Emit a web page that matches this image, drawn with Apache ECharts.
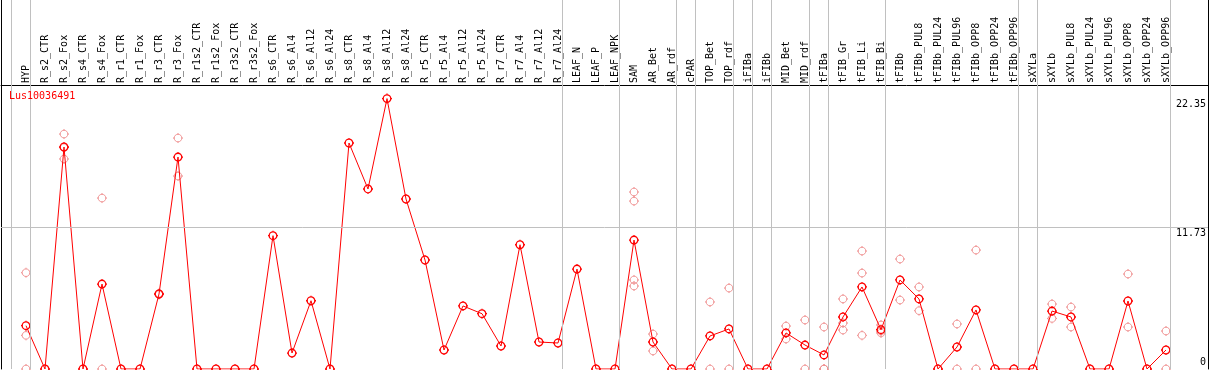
<!DOCTYPE html>
<html>
<head>
<meta charset="utf-8">
<script src="https://cdn.jsdelivr.net/npm/echarts@6/dist/echarts.min.js"></script>
<style>
  html, body { margin: 0; padding: 0; background: #fff; }
  #chart { width: 1209px; height: 370px; }
</style>
</head>
<body>
<div id="chart"></div>
<script>
const seriesName = 'Lus10036491';

const categories = [
  'HYP', 'R_s2_CTR', 'R_s2_Fox', 'R_s4_CTR', 'R_s4_Fox', 'R_r1_CTR', 'R_r1_Fox',
  'R_r3_CTR', 'R_r3_Fox', 'R_r1s2_CTR', 'R_r1s2_Fox', 'R_r3s2_CTR', 'R_r3s2_Fox',
  'R_s6_CTR', 'R_s6_Al4', 'R_s6_Al12', 'R_s6_Al24', 'R_s8_CTR', 'R_s8_Al4', 'R_s8_Al12',
  'R_s8_Al24', 'R_r5_CTR', 'R_r5_Al4', 'R_r5_Al12', 'R_r5_Al24', 'R_r7_CTR', 'R_r7_Al4',
  'R_r7_Al12', 'R_r7_Al24', 'LEAF_N', 'LEAF_P', 'LEAF_NPK', 'SAM', 'AR_Bet', 'AR_rdf',
  'cPAR', 'TOP_Bet', 'TOP_rdf', 'iFIBa', 'iFIBb', 'MID_Bet', 'MID_rdf', 'tFIBa',
  'tFIB_Gr', 'tFIB_Li', 'tFIB_Bi', 'tFIBb', 'tFIBb_PUL8', 'tFIBb_PUL24', 'tFIBb_PUL96',
  'tFIBb_OPP8', 'tFIBb_OPP24', 'tFIBb_OPP96', 'sXYLa', 'sXYLb', 'sXYLb_PUL8',
  'sXYLb_PUL24', 'sXYLb_PUL96', 'sXYLb_OPP8', 'sXYLb_OPP24', 'sXYLb_OPP96'
];

const meanValues = [
  3.58, 0, 18.35, 0, 7.02, 0, 0,
  6.2, 17.52, 0, 0, 0, 0,
  11.02, 1.32, 5.64, 0, 18.68, 14.88, 22.35,
  14.05, 9.01, 1.57, 5.21, 4.57, 1.9, 10.27,
  2.23, 2.15, 8.26, 0, 0, 10.66, 2.23, 0,
  0, 2.73, 3.31, 0, 0, 2.98, 1.98, 1.16,
  4.3, 6.78, 3.25, 7.36, 5.79, 0, 1.82,
  4.88, 0, 0, 0, 4.79, 4.3,
  0, 0, 5.62, 0, 1.57
];

const replicateValues = [
  [7.96, 2.78, 0], [], [19.42, 17.36, 18.3], [], [14.13, 0], [], [],
  [6.15, 6.25], [19.09, 15.95], [], [], [], [],
  [], [], [], [], [], [], [],
  [], [], [], [], [], [], [],
  [], [], [], [], [], [14.63, 13.88, 7.36, 6.86], [2.89, 1.49], [],
  [], [5.54, 0], [6.69, 0], [], [], [3.55, 2.48], [4.05, 0], [3.47, 0, 0],
  [5.79, 3.8, 3.22], [9.75, 7.93, 2.78], [3.64, 2.98, 3.13], [9.09, 5.7], [6.78, 4.82], [], [3.72, 0],
  [9.83, 0], [], [], [], [5.37, 4.18], [5.12, 3.47],
  [], [], [7.85, 3.47], [], [3.14, 0]
];

// group separators are drawn just after these category indices
const separatorAfter = [-1, 0, 28, 31, 34, 35, 37, 38, 39, 41, 42, 45, 52, 53, 60];

const yTickValues = [0, 11.73, 22.35];
const yGuideValue = 11.73;

const MONO = "'DejaVu Sans Mono', 'Liberation Mono', monospace";
// hollow circle with four short ticks
const markerPath = 'path://M5,0L5,1M5,9L5,10M0,5L1,5M9,5L10,5' +
  'M8.8,5C8.8,7.1 7.1,8.8 5,8.8C2.9,8.8 1.2,7.1 1.2,5' +
  'C1.2,2.9 2.9,1.2 5,1.2C7.1,1.2 8.8,2.9 8.8,5Z';

const meanData = meanValues.map((v, i) => [i, v]);
const repData = [];
replicateValues.forEach((arr, i) => arr.forEach(v => repData.push([i, v])));

const chart = echarts.init(document.getElementById('chart'), null, { renderer: 'canvas' });

chart.setOption({
  animation: false,
  backgroundColor: '#ffffff',
  title: {
    text: seriesName,
    left: 9,
    top: 91,
    padding: 0,
    textStyle: { color: '#ff0000', fontSize: 10, fontFamily: MONO, fontWeight: 'normal' }
  },
  grid: { left: 1, right: 1, top: 0, bottom: 1, containLabel: false, outerBoundsMode: 'none' },
  xAxis: {
    type: 'value',
    position: 'top',
    offset: -85,
    min: -25 / 19,
    max: 1182 / 19,
    axisLine: { show: true, onZero: false, lineStyle: { color: '#000', width: 1 } },
    axisTick: { show: false },
    splitLine: { show: false },
    axisLabel: {
      customValues: categories.map((c, i) => i),
      formatter: v => categories[Math.round(v)] || '',
      rotate: -90,
      margin: 2,
      color: '#000',
      fontSize: 10,
      fontFamily: MONO,
      hideOverlap: false,
      showMinLabel: true,
      showMaxLabel: true
    }
  },
  yAxis: [
    {
      type: 'value',
      position: 'right',
      min: 0,
      max: 30.5,
      axisLine: { show: true, onZero: false, lineStyle: { color: '#000', width: 1 } },
      axisTick: { show: false },
      splitLine: { show: false },
      axisLabel: {
        inside: true,
        customValues: yTickValues,
        margin: 2,
        verticalAlign: 'middle',
        formatter: v => (v === 0 ? '{b|' + v + '}' : '{t|' + v + '}'),
        rich: {
          t: { fontSize: 10, fontFamily: MONO, color: '#000', padding: [12, 0, 0, 0] },
          b: { fontSize: 10, fontFamily: MONO, color: '#000', padding: [0, 0, 14, 0] }
        }
      }
    },
    {
      type: 'value',
      position: 'left',
      min: 0,
      max: 30.5,
      axisLine: { show: true, onZero: false, lineStyle: { color: '#000', width: 1 } },
      axisTick: { show: false },
      splitLine: { show: false },
      axisLabel: { show: false }
    }
  ],
  series: [
    {
      name: 'replicates',
      type: 'scatter',
      data: repData,
      symbol: markerPath,
      symbolSize: 10,
      itemStyle: { color: 'rgba(0,0,0,0)', borderColor: '#f09090', borderWidth: 1, opacity: 1 },
      z: 2,
      silent: true
    },
    {
      name: seriesName,
      type: 'line',
      data: meanData,
      symbol: markerPath,
      symbolSize: 10,
      showAllSymbol: true,
      lineStyle: { color: '#ff0000', width: 1 },
      itemStyle: { color: 'rgba(0,0,0,0)', borderColor: '#ff0000', borderWidth: 1.3 },
      z: 3,
      silent: true,
      markLine: {
        silent: true,
        symbol: 'none',
        label: { show: false },
        lineStyle: { color: '#c0c0c0', width: 1, type: 'solid' },
        data: separatorAfter.map(i => ({ xAxis: i + 0.23 }))
          .concat([{ yAxis: yGuideValue }])
      }
    }
  ]
});
</script>
</body>
</html>
